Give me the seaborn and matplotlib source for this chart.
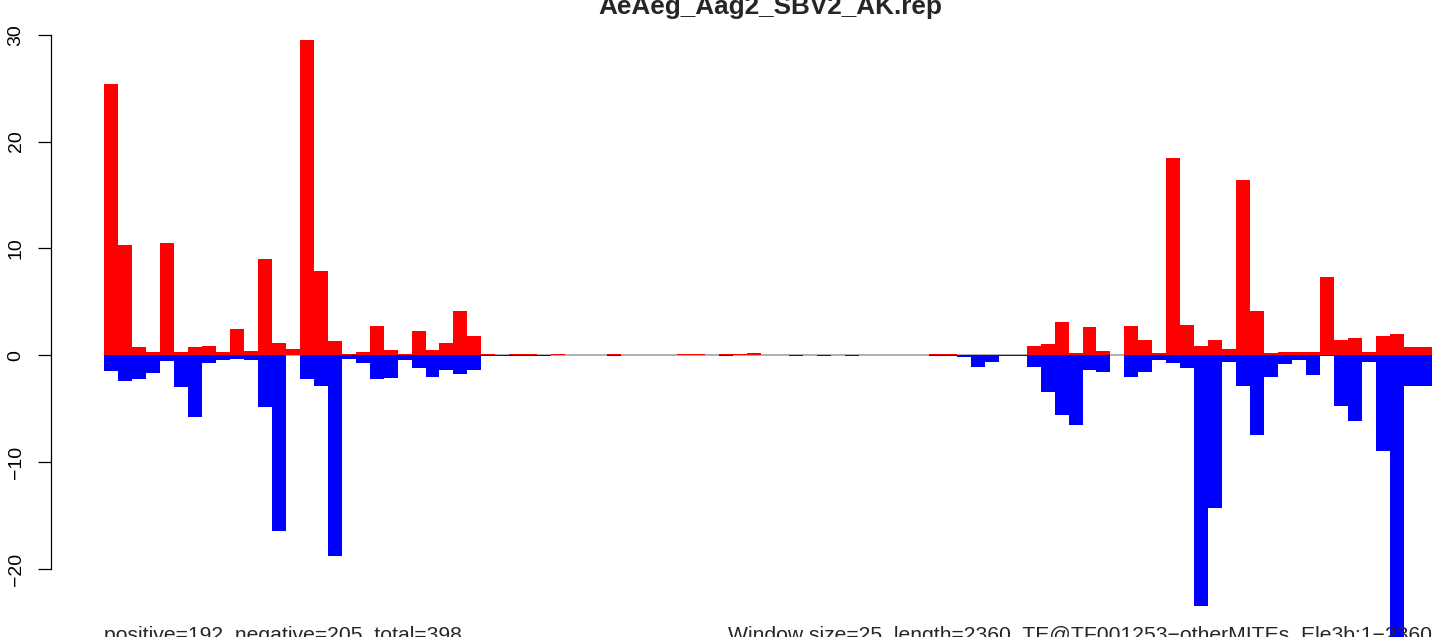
import matplotlib
matplotlib.use("Agg")
import matplotlib.pyplot as plt
import pandas as pd
import seaborn as sns

TITLE = "AeAeg_Aag2_SBV2_AK.rep"
LEFT_NOTE = "positive=192, negative=205, total=398"
RIGHT_NOTE = "Window size=25, length=2360, TE@TF001253\u2212otherMITEs_Ele3b:1\u22122360"
Y_TICKS = [-20, -10, 0, 10, 20, 30]

# per-window sense (positive) and antisense (negative) values, 95 windows
positive = [
    25.4, 10.3, 0.8, 0.27, 10.5, 0.27, 0.8, 0.9, 0.33, 2.5,
    0.42, 9.0, 1.17, 0.6, 29.5, 7.85, 1.36, 0.15, 0.33, 2.77,
    0.5, 0.15, 2.3, 0.5, 1.17, 4.17, 1.83, 0.15, 0.0, 0.15,
    0.15, 0.0, 0.08, 0.0, 0.0, 0.0, 0.15, 0.0, 0.0, 0.0,
    0.0, 0.08, 0.08, 0.0, 0.15, 0.08, 0.2, 0.0, 0.0, 0.0,
    0.0, 0.0, 0.0, 0.0, 0.0, 0.0, 0.0, 0.0, 0.0, 0.08,
    0.15, 0.0, 0.05, 0.05, 0.0, 0.0, 0.89, 1.08, 3.15, 0.23,
    2.68, 0.42, 0.05, 2.77, 1.46, 0.23, 18.47, 2.87, 0.89, 1.46,
    0.61, 16.4, 4.18, 0.23, 0.33, 0.33, 0.33, 7.28, 1.46, 1.64,
    0.33, 1.83, 2.02, 0.8, 0.8,
]
negative = [
    -1.46, -2.4, -2.2, -1.64, -0.52, -2.96, -5.78, -0.7, -0.42, -0.33,
    -0.42, -4.84, -16.4, 0.0, -2.2, -2.86, -18.75, -0.33, -0.7, -2.2,
    -2.1, -0.42, -1.17, -2.0, -1.36, -1.74, -1.36, -0.08, -0.08, -0.08,
    -0.08, -0.08, 0.0, 0.0, 0.0, 0.0, -0.08, 0.0, 0.0, 0.0,
    0.0, 0.0, 0.0, 0.0, -0.08, 0.0, 0.0, 0.0, 0.0, -0.08,
    0.0, -0.08, 0.0, -0.08, 0.0, 0.0, 0.0, 0.0, 0.0, -0.05,
    -0.08, -0.2, -1.08, -0.6, -0.05, -0.05, -1.08, -3.43, -5.6, -6.5,
    -1.36, -1.55, 0.0, -2.0, -1.55, -0.42, -0.7, -1.17, -23.5, -14.3,
    -0.6, -2.86, -7.47, -2.0, -0.8, -0.42, -1.83, -0.1, -4.74, -6.15,
    -0.6, -8.99, -27.0, -2.86, -2.86,
]

df = pd.DataFrame({
    "window": list(range(len(positive))),
    "positive": positive,
    "negative": negative,
})

sns.set_style("white")
plt.rcParams["font.family"] = ["Liberation Sans", "DejaVu Sans"]

fig = plt.figure(figsize=(14.41, 6.37), dpi=100)
ax = fig.add_axes([0.07217, 0.10675, 0.92158, 0.83878])

ax.axhline(0, color="#aaaaaa", lw=1.3, zorder=0)
sns.barplot(data=df, x="window", y="positive", color="#FF0000", saturation=1,
            width=1, linewidth=0, errorbar=None, ax=ax, zorder=2)
sns.barplot(data=df, x="window", y="negative", color="#0000FF", saturation=1,
            width=1, linewidth=0, errorbar=None, ax=ax, zorder=2)
for p in ax.patches:
    p.set_clip_on(False)

ax.set_xlim(-0.5, len(positive) - 0.5)
ax.set_ylim(-20, 30)
ax.set_xticks([])
ax.set_xlabel("")
ax.set_ylabel("")
ax.set_yticks(Y_TICKS)
for s in ["top", "right", "bottom"]:
    ax.spines[s].set_visible(False)
ax.spines["left"].set_position(("outward", 38.4))
ax.spines["left"].set_color("black")
ax.spines["left"].set_linewidth(0.9)
ax.tick_params(axis="y", left=True, length=9.7, width=0.9, color="black",
               labelsize=14, pad=9, labelcolor="black")
plt.setp(ax.get_yticklabels(), rotation=90, va="center")

fig.text(0.5344, 0.978, TITLE, ha="center", va="baseline", fontsize=18.8,
         fontweight="bold")
fig.text(104 / 1441, -0.006, LEFT_NOTE, ha="left", va="baseline", fontsize=15.2)
fig.text(1432 / 1441, -0.006, RIGHT_NOTE, ha="right", va="baseline", fontsize=15.2)

fig.savefig("out.png", dpi=100)
